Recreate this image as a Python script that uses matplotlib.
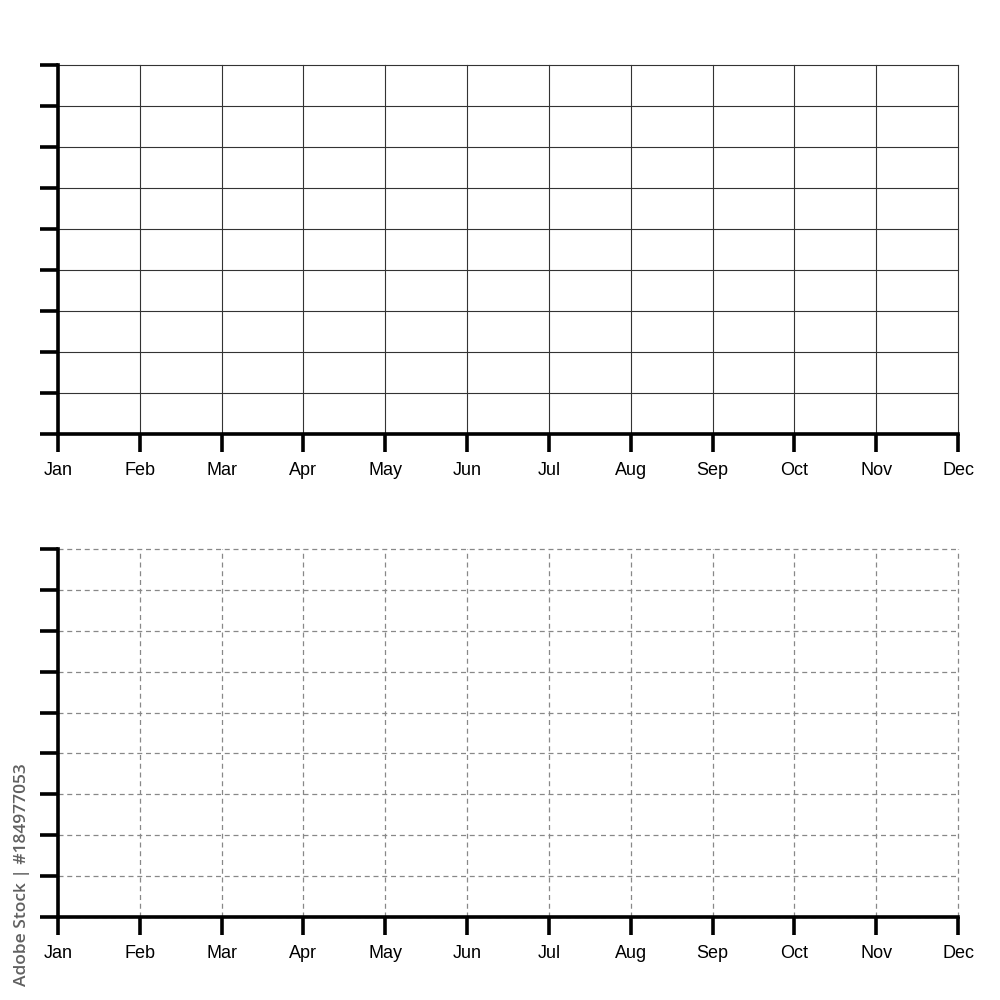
import matplotlib
matplotlib.use("Agg")
import matplotlib.pyplot as plt

months = ["Jan", "Feb", "Mar", "Apr", "May", "Jun", "Jul", "Aug", "Sep", "Oct", "Nov", "Dec"]
y_ticks = [0, 1, 2, 3, 4, 5, 6, 7, 8, 9]
watermark = "Adobe Stock | #184977053"

plt.rcParams['font.family'] = ['Liberation Sans', 'DejaVu Sans']

fig = plt.figure(figsize=(10, 10), dpi=100)
fig.patch.set_facecolor("white")

def make_axes(rect, grid_style, grid_color, grid_lw):
    ax = fig.add_axes(rect)
    ax.set_xlim(0, len(months) - 1)
    ax.set_ylim(y_ticks[0], y_ticks[-1])
    ax.set_xticks(range(len(months)))
    ax.set_xticklabels(months, fontsize=13)
    ax.set_yticks(y_ticks)
    ax.set_yticklabels([])
    for s in ["top", "right"]:
        ax.spines[s].set_visible(False)
    for s in ["left", "bottom"]:
        ax.spines[s].set_linewidth(2.6)
        ax.spines[s].set_color("black")
    ax.tick_params(axis="both", direction="out", length=13, width=2.6, color="black")
    ax.tick_params(axis="x", pad=7)
    ax.grid(True, linestyle=grid_style, color=grid_color, linewidth=grid_lw)
    ax.set_axisbelow(True)
    for gl in ax.get_xgridlines() + ax.get_ygridlines():
        gl.set_clip_on(False)
    return ax

ax1 = make_axes([0.058, 0.566, 0.900, 0.369], "-", "#333333", 0.8)
ax2 = make_axes([0.058, 0.083, 0.900, 0.368], (0, (4, 3)), "#888888", 0.9)

fig.text(0.022, 0.237, watermark, rotation=90, fontsize=12.5,
         family=['Open Sans', 'DejaVu Sans'], weight='semibold',
         color="#606060", ha="center", va="top")

fig.savefig("out.png", dpi=100, facecolor="white")
